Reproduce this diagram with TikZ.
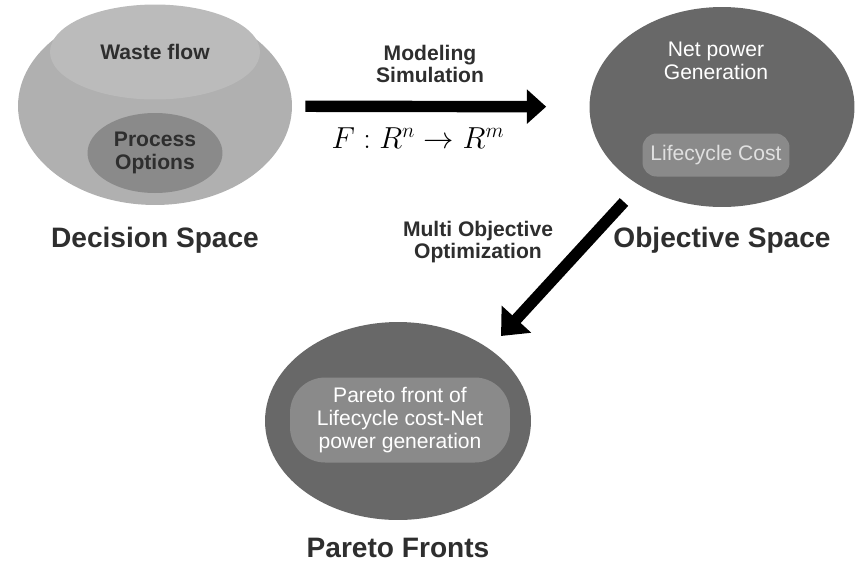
\documentclass[tikz,border=0pt]{standalone}
\usepackage{amsmath,amssymb}
\usepackage{fontspec}
\setmainfont{Liberation Sans}
\usepackage{tikz}
\usetikzlibrary{shapes.geometric,arrows.meta}

\definecolor{lightblob}{HTML}{B0B0B0}
\definecolor{paleblob}{HTML}{BBBBBB}
\definecolor{midblob}{HTML}{8A8A8A}
\definecolor{darkblob}{HTML}{686868}
\definecolor{innerbox}{HTML}{8A8A8A}
\definecolor{inktext}{HTML}{2E2E2E}

\begin{document}
\begin{tikzpicture}[x=0.02cm,y=-0.02cm,
    blob/.style={ellipse,inner sep=0pt},
    caption/.style={font=\fontsize{16}{18}\selectfont\bfseries,text=inktext},
    tag/.style={font=\fontsize{12}{13}\selectfont\bfseries,text=inktext,align=center},
    whitetag/.style={font=\fontsize{12}{13}\selectfont,text=white,align=center},
    bigarrow/.style={line width=6.5pt,-{Triangle[length=11pt,width=19pt]}}]
  \useasboundingbox (0,0) rectangle (865,569);

  % Decision space (light, with two inner regions)
  \node[blob,fill=lightblob,minimum width=5.48cm,minimum height=3.96cm] (dec) at (155,106) {};
  \node[blob,fill=paleblob,minimum width=4.2cm,minimum height=1.9cm] (waste) at (155,52) {};
  \node[tag] (wastetxt) at (155,52) {Waste flow};
  \node[blob,fill=midblob,minimum width=2.7cm,minimum height=1.6cm,tag] (proc) at (155,153)
    {Process\\Options};
  \node[caption] (deccap) at (155,240) {Decision Space};

  % Objective space
  \node[blob,fill=darkblob,minimum width=5.3cm,minimum height=4cm] (obj) at (722,107) {};
  \node[whitetag] (nettxt) at (716,61) {Net power\\Generation};
  \node[fill=innerbox,rounded corners=8pt,minimum width=2.94cm,minimum height=0.86cm,
        whitetag,text=white!88!black] (cost) at (716,155) {Lifecycle Cost};
  \node[caption] (objcap) at (722,240) {Objective Space};

  % Pareto fronts
  \node[blob,fill=darkblob,minimum width=5.32cm,minimum height=3.96cm] (par) at (398,421) {};
  \node[fill=innerbox,rounded corners=20pt,minimum width=4.4cm,minimum height=1.7cm,
        whitetag] (front) at (400,420) {Pareto front of\\Lifecycle cost-Net\\power generation};
  \node[caption] (parcap) at (398,548) {Pareto Fronts};

  % Arrows and their labels
  \coordinate (diagA) at (624,202);
  \coordinate (diagB) at (501,336);
  \draw[bigarrow,shorten <=0.26cm,shorten >=0.86cm] (dec) -- (obj);
  \draw[bigarrow,-{Triangle[length=13pt,width=22pt]}] (diagA) -- (diagB);
  \node[tag] (model) at (430,64) {Modeling\\Simulation};
  \node[font=\fontsize{17}{19}\selectfont] (map) at (418,138) {$F : R^{n} \to R^{m}$};
  \node[tag] (moo) at (478,242) {Multi Objective\\Optimization};
\end{tikzpicture}
\end{document}
